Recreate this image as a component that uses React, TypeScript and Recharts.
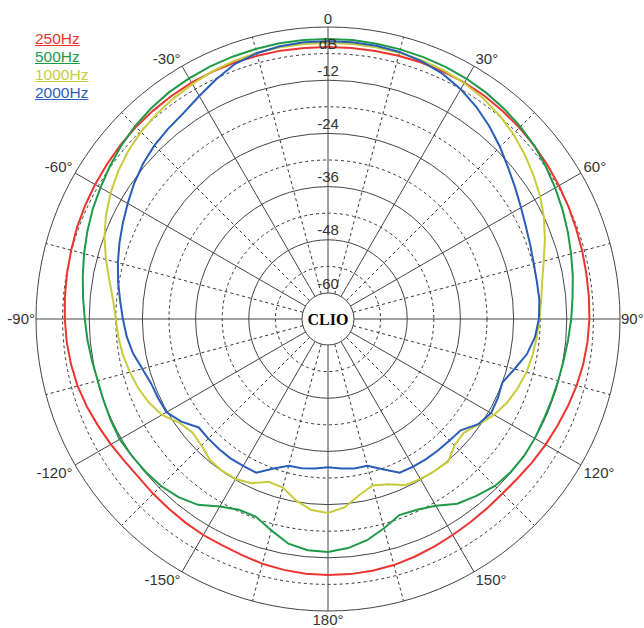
import { RadarChart, Radar, PolarGrid, PolarAngleAxis, PolarRadiusAxis } from 'recharts';

// polar response, angle 0 at the top, clockwise, values in dB
const angles = Array.from({ length: 72 }, (_, i) => i * 5);

const hz250 = [
  -4.5, -4.5, -4.5, -4.4, -4.3, -4.3, -4.3, -4.4, -4.6, -4.8, -5.1, -5.4,
  -5.7, -6.0, -6.3, -6.5, -6.7, -6.8, -6.9, -7.1, -7.4, -7.8, -8.3, -8.8,
  -9.2, -9.6, -10.0, -10.2, -10.1, -9.9, -9.6, -9.2, -8.8, -8.4, -8.2, -8.1,
  -8.1, -8.2, -8.4, -8.7, -9.2, -9.5, -9.6, -9.8, -10.0, -10.1, -10.2, -9.9,
  -9.3, -8.7, -8.0, -7.4, -7.0, -6.7, -6.5, -6.3, -6.1, -5.9, -5.6, -5.4,
  -5.2, -5.0, -4.8, -4.6, -4.5, -4.4, -4.3, -4.3, -4.3, -4.4, -4.4, -4.5,
];

const hz500 = [
  -2.7, -2.7, -2.8, -2.9, -3.0, -3.1, -3.3, -3.6, -4.0, -4.5, -5.1, -5.9,
  -6.7, -7.5, -8.3, -9.1, -9.8, -10.5, -11.0, -11.5, -11.9, -12.1, -12.2, -12.2,
  -12.0, -11.9, -12.1, -12.6, -13.8, -15.0, -17.2, -18.4, -18.8, -17.0, -15.2, -14.0,
  -13.3, -13.5, -14.4, -16.5, -18.4, -18.4, -17.0, -14.7, -13.4, -12.6, -12.2, -11.9,
  -11.6, -11.8, -12.0, -12.1, -11.8, -11.4, -11.0, -10.4, -9.7, -8.9, -8.1, -7.3,
  -6.6, -5.8, -5.0, -4.3, -3.8, -3.4, -3.2, -3.0, -2.9, -2.8, -2.7, -2.7,
];

const hz1000 = [
  -3.6, -3.6, -3.6, -3.7, -3.8, -4.0, -4.4, -5.0, -5.8, -6.8, -8.0, -9.3,
  -10.6, -12.1, -13.8, -15.5, -16.8, -17.6, -18.2, -18.6, -19.0, -19.5, -20.3, -21.3,
  -22.6, -24.4, -25.9, -25.5, -23.8, -24.0, -24.2, -24.5, -26.2, -27.0, -25.5, -23.2,
  -22.1, -22.6, -24.3, -26.5, -26.8, -25.0, -24.2, -24.1, -24.4, -25.5, -26.0, -25.0,
  -22.6, -21.3, -20.3, -19.6, -18.9, -18.4, -18.0, -17.2, -15.8, -14.0, -12.2, -10.6,
  -9.2, -8.0, -7.0, -6.2, -5.6, -5.1, -4.7, -4.2, -3.9, -3.7, -3.6, -3.6,
];

const hz2000 = [
  -3.2, -3.2, -3.3, -3.5, -4.0, -4.8, -6.0, -7.5, -9.2, -11.0, -12.8, -14.3,
  -15.6, -16.6, -17.3, -17.8, -18.0, -18.0, -18.3, -19.0, -20.3, -22.3, -24.0, -23.6,
  -23.4, -24.5, -26.8, -27.1, -27.2, -27.3, -27.4, -27.6, -29.8, -31.6, -31.6, -32.0,
  -32.4, -32.0, -31.7, -31.6, -30.0, -27.6, -27.6, -27.5, -27.6, -27.7, -27.8, -25.5,
  -23.8, -23.6, -23.4, -22.5, -21.2, -20.3, -19.6, -18.8, -17.8, -16.8, -15.8, -14.8,
  -13.7, -12.5, -11.4, -10.5, -9.8, -9.1, -7.8, -6.2, -4.6, -3.8, -3.4, -3.2,
];

const seriesNames = ['250Hz', '500Hz', '1000Hz', '2000Hz'];
const seriesKeys = ['hz250', 'hz500', 'hz1000', 'hz2000'];
const seriesColors = ['#ec3530', '#1f9a48', '#c8cc3c', '#2a5db8'];

const angleLabels: Record<number, string> = {
  0: '0', 30: '30°', 60: '60°', 90: '90°', 120: '120°', 150: '150°', 180: '180°',
  210: '-150°', 240: '-120°', 270: '-90°', 300: '-60°', 330: '-30°',
};
const radiusLabels: Record<number, string> = {
  '-6': 'dB', '-12': '-12', '-24': '-24', '-36': '-36', '-48': '-48', '-60': '-60',
};

const solidRings = [-60, -48, -36, -24, -12, 0];
const dashedRings = [-54, -42, -30, -18, -6];
const solidSpokes = [0, 30, 60, 90, 120, 150, 180, 210, 240, 270, 300, 330];
const dashedSpokes = [15, 45, 75, 105, 135, 165, 195, 225, 255, 285, 315, 345];

const CX = 328;
const CY = 319;
const R_IN = 26;
const R_OUT = 292;
const ringRadius = (db: number) => R_IN + ((db + 60) / 60) * (R_OUT - R_IN);
const toChartAngle = (a: number) => 90 - a;

const data = angles.map((angle, i) => ({
  angle,
  hz250: hz250[i],
  hz500: hz500[i],
  hz1000: hz1000[i],
  hz2000: hz2000[i],
}));

const FONT = '"Liberation Sans", Arial, sans-serif';

const AngleTick = (props: any) => {
  const { x, y, payload } = props;
  const a = payload.value;
  const label = angleLabels[a];
  if (!label) return null;
  const rad = (a * Math.PI) / 180;
  const s = Math.sin(rad);
  const c = Math.cos(rad);
  const horizontal = Math.abs(c) < 0.1;
  // tick point sits 8px outside the ring; pull it back in
  const back = horizontal ? 7 : 5;
  const px = x - back * s;
  const py = y + back * c;
  const anchor = s > 0.1 ? 'start' : s < -0.1 ? 'end' : 'middle';
  const ty = c > 0.1 ? py : c < -0.1 ? py + 11 : py + 5;
  return (
    <text x={px} y={ty} textAnchor={anchor} fill="#333" fontSize={15} fontFamily={FONT}>
      {label}
    </text>
  );
};

const RadiusTick = (props: any) => {
  const { x, y, payload } = props;
  const label = radiusLabels[payload.value];
  if (!label) return null;
  return (
    <text x={x} y={y - 10} textAnchor="middle" dominantBaseline="central" fill="#333" fontSize={15} fontFamily={FONT}>
      {label}
    </text>
  );
};

export default function App() {
  return (
    <div style={{ position: 'absolute', left: 0, top: 0, width: 644, height: 628, background: '#fff', overflow: 'hidden' }}>
      <RadarChart
        width={644}
        height={628}
        data={data}
        cx={CX}
        cy={CY}
        innerRadius={R_IN}
        outerRadius={R_OUT}
        startAngle={90}
        endAngle={-270}
        margin={{ top: 0, right: 0, bottom: 0, left: 0 }}
      >
        <PolarGrid
          gridType="circle"
          polarRadius={dashedRings.map(ringRadius)}
          polarAngles={dashedSpokes.map(toChartAngle)}
          stroke="#333"
          strokeDasharray="3 3"
        />
        <PolarGrid
          gridType="circle"
          polarRadius={solidRings.map(ringRadius)}
          polarAngles={solidSpokes.map(toChartAngle)}
          stroke="#444"
        />
        <PolarAngleAxis dataKey="angle" tick={<AngleTick />} tickLine={false} axisLine={false} />
        <PolarRadiusAxis
          angle={90}
          type="number"
          domain={[-60, 0]}
          tickCount={11}
          tick={<RadiusTick />}
          axisLine={false}
          tickLine={false}
        />
        {seriesKeys.map((k, i) => (
          <Radar
            key={k}
            name={seriesNames[i]}
            dataKey={k}
            stroke={seriesColors[i]}
            strokeWidth={2}
            fill="none"
            fillOpacity={0}
            dot={false}
            isAnimationActive={false}
          />
        ))}
      </RadarChart>
      <svg width={644} height={628} style={{ position: 'absolute', left: 0, top: 0, pointerEvents: 'none' }}>
        <text x={CX} y={CY} textAnchor="middle" dominantBaseline="central" fontFamily='"Liberation Serif", "Times New Roman", serif' fontWeight="bold" fontSize={16} fill="#000">
          CLIO
        </text>
      </svg>
      <div style={{ position: 'absolute', left: 35, top: 30, fontFamily: FONT, fontSize: 15.5, lineHeight: '18px' }}>
        {seriesNames.map((n, i) => (
          <div key={n} style={{ color: seriesColors[i], textDecoration: 'underline' }}>
            {n}
          </div>
        ))}
      </div>
    </div>
  );
}
